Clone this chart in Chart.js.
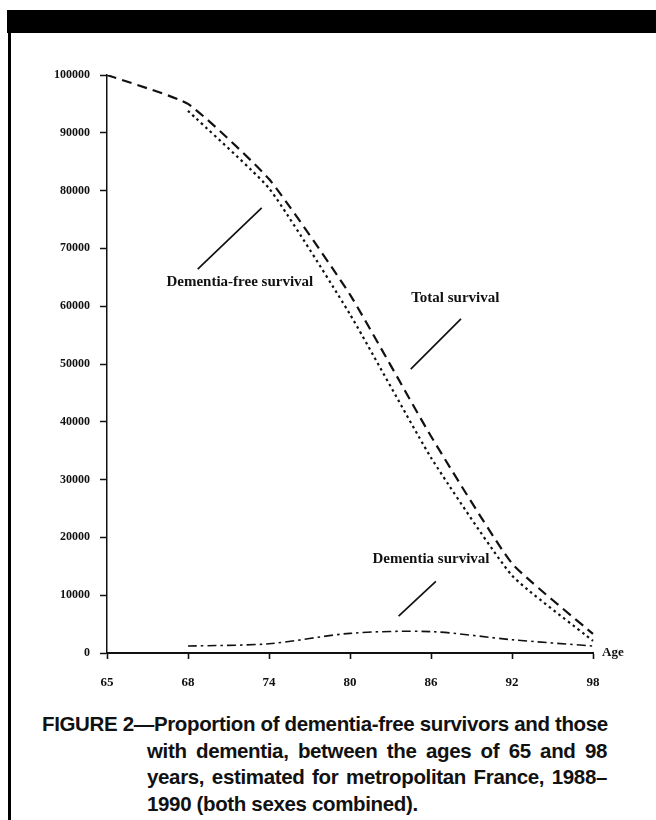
<!DOCTYPE html>
<html lang="en">
<head>
  <meta charset="UTF-8">
  <title>Figure 2 - dementia-free survival</title>
  <script src="https://cdn.jsdelivr.net/npm/chart.js"></script>
  <style>
    html, body { margin: 0; padding: 0; background: #fff; }
    body { width: 656px; height: 820px; position: relative; overflow: hidden; }
    .topbar { position: absolute; left: 7px; top: 10px; width: 649px; height: 23px; background: #000; }
    .leftrule { position: absolute; left: 8px; top: 10px; width: 3px; height: 810px; background: #000; }
    .chart-box { position: absolute; left: 10px; top: 30px; width: 646px; height: 680px; }
    .caption {
      position: absolute; left: 42px; top: 711px; width: 565px;
      font-family: "Liberation Sans", Arial, sans-serif; font-weight: bold;
      font-size: 20.5px; line-height: 26.5px; color: #111; letter-spacing: -0.35px;
    }
    .caption div { text-align: justify; text-align-last: justify; white-space: nowrap; }
    .caption .ind { margin-left: 105px; }
    .caption .last { text-align-last: left; }
  </style>
</head>
<body>
  <div class="topbar"></div>
  <div class="leftrule"></div>
  <div class="chart-box"><canvas id="survivalChart"></canvas></div>
  <div class="caption">
    <div>FIGURE 2—Proportion of dementia-free survivors and those</div>
    <div class="ind">with dementia, between the ages of 65 and 98</div>
    <div class="ind">years, estimated for metropolitan France, 1988–</div>
    <div class="ind last">1990 (both sexes combined).</div>
  </div>

  <script>
    // ages (equally spaced on the original axis)
    const ages = ['65', '68', '74', '80', '86', '92', '98'];
    const totalSurvival = [100000, 95000, 82000, 62000, 37500, 15500, 3300];
    const dementiaFree = [null, 93800, 80400, 58600, 33800, 13400, 2100];
    const dementiaSurvival = [null, 1200, 1600, 3400, 3700, 2300, 1200];

    // text labels with a pointer line, given in axis units (category index, value)
    const notes = [
      { text: 'Dementia-free survival', x: 1.64, y: 64200, from: [1.12, 66400], to: [1.91, 77000] },
      { text: 'Total survival', x: 4.3, y: 61400, from: [3.75, 49100], to: [4.37, 57800] },
      { text: 'Dementia survival', x: 4.0, y: 16200, from: [3.6, 6400], to: [4.06, 12400] }
    ];

    const serif = '"Liberation Serif", "Times New Roman", serif';

    const notesPlugin = {
      id: 'notes',
      afterDatasetsDraw(chart) {
        const ctx = chart.ctx;
        const xs = chart.scales.x, ys = chart.scales.y;
        ctx.save();
        ctx.fillStyle = '#111';
        ctx.strokeStyle = '#111';
        ctx.lineWidth = 1.7;
        ctx.font = 'bold 15px ' + serif;
        ctx.textAlign = 'center';
        ctx.textBaseline = 'middle';
        notes.forEach(n => {
          ctx.fillText(n.text, xs.getPixelForValue(n.x), ys.getPixelForValue(n.y));
          ctx.beginPath();
          ctx.moveTo(xs.getPixelForValue(n.from[0]), ys.getPixelForValue(n.from[1]));
          ctx.lineTo(xs.getPixelForValue(n.to[0]), ys.getPixelForValue(n.to[1]));
          ctx.stroke();
        });
        // axis title at the end of the x axis
        ctx.font = 'bold 13px ' + serif;
        ctx.textAlign = 'left';
        ctx.fillText('Age', chart.chartArea.right + 9, ys.getPixelForValue(0));
        ctx.restore();
      }
    };

    new Chart(document.getElementById('survivalChart'), {
      type: 'line',
      data: {
        labels: ages,
        datasets: [
          {
            label: 'Total survival',
            data: totalSurvival,
            borderColor: '#111',
            borderWidth: 2.2,
            borderDash: [10, 6],
            tension: 0.15
          },
          {
            label: 'Dementia-free survival',
            data: dementiaFree,
            borderColor: '#111',
            borderWidth: 2.2,
            borderDash: [2.5, 3.5],
            tension: 0.15
          },
          {
            label: 'Dementia survival',
            data: dementiaSurvival,
            borderColor: '#111',
            borderWidth: 1.6,
            borderDash: [9, 4, 2.5, 4],
            tension: 0.3
          }
        ]
      },
      options: {
        responsive: true,
        maintainAspectRatio: false,
        animation: false,
        layout: { padding: { left: 0, top: 45, right: 63, bottom: 0 } },
        elements: { point: { radius: 0 } },
        plugins: { legend: { display: false }, tooltip: { enabled: false } },
        scales: {
          x: {
            type: 'category',
            offset: false,
            grid: { drawOnChartArea: false, tickLength: 6, tickColor: '#111', tickWidth: 1.6 },
            border: { color: '#111', width: 2 },
            ticks: { color: '#111', padding: 16, maxRotation: 0, font: { family: serif, size: 13, weight: 'bold' } },
            afterFit: s => { s.height = 57; }
          },
          y: {
            min: 0,
            max: 100000,
            grid: { drawOnChartArea: false, tickLength: 7, tickColor: '#111', tickWidth: 1.5 },
            border: { color: '#111', width: 1.5 },
            ticks: {
              stepSize: 10000,
              color: '#111',
              padding: 10,
              font: { family: serif, size: 12, weight: 'bold' },
              callback: v => String(v)
            },
            afterFit: s => { s.width = 97; }
          }
        }
      },
      plugins: [notesPlugin]
    });
  </script>
</body>
</html>
